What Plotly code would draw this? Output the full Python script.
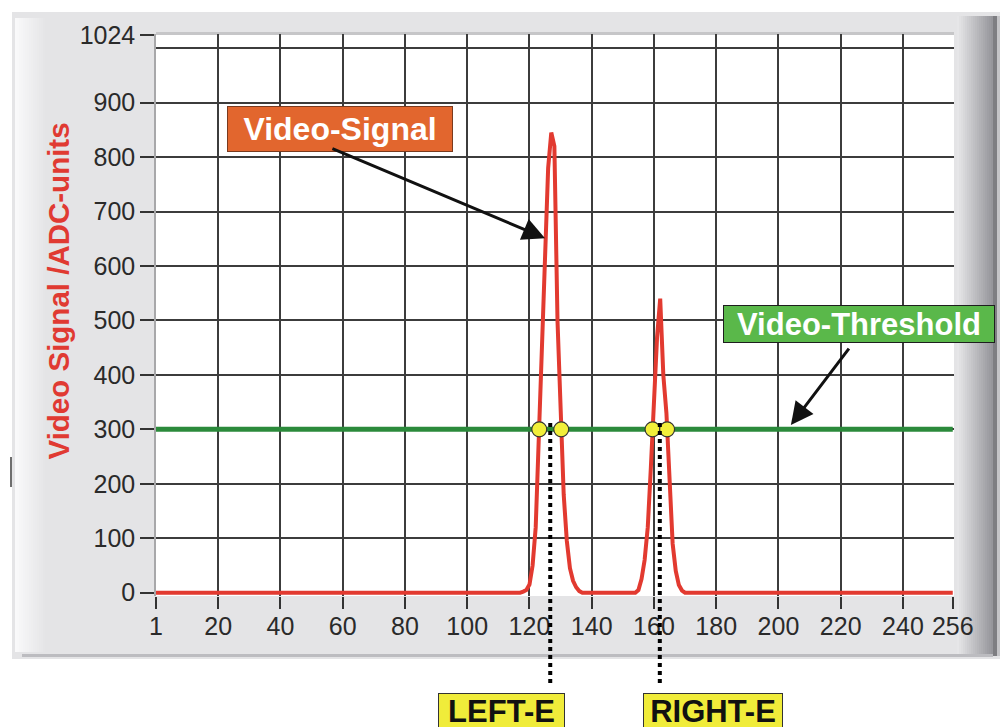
import numpy as np
import plotly.graph_objects as go

# Line-sensor scan: pixel index -> video level in ADC counts
pixel_count = 256
peak1_pixels = list(range(117, 138))
peak1_levels = [0, 2, 5, 15, 50, 120, 280, 420, 620, 780, 845, 820, 500, 330, 180, 95, 45, 22, 10, 3, 0]
peak2_pixels = list(range(154, 171))
peak2_levels = [0, 5, 25, 60, 120, 230, 360, 470, 540, 400, 330, 190, 90, 40, 14, 4, 0]
threshold_level = 300

x_tick_vals = [0, 20, 40, 60, 80, 100, 120, 140, 160, 180, 200, 220, 240, 256]
x_tick_text = ["1", "20", "40", "60", "80", "100", "120", "140", "160", "180", "200", "220", "240", "256"]
x_grid_vals = [20, 40, 60, 80, 100, 120, 140, 160, 180, 200, 220, 240]
y_tick_vals = [0, 100, 200, 300, 400, 500, 600, 700, 800, 900, 1024]
y_tick_text = ["0", "100", "200", "300", "400", "500", "600", "700", "800", "900", "1024"]
y_grid_vals = [100, 200, 300, 400, 500, 600, 700, 800, 900, 1000]

x_range = [0, 256.4]
y_range = [-6, 1026]

pixels = np.arange(pixel_count + 1)
signal = np.zeros(pixel_count + 1)
signal[peak1_pixels] = peak1_levels
signal[peak2_pixels] = peak2_levels


def threshold_edges(px, lv, thr):
    """Interpolated rising and falling crossings of the threshold."""
    px = np.asarray(px, float)
    lv = np.asarray(lv, float)
    above = np.where(lv >= thr)[0]
    i, j = above[0], above[-1]
    rise = px[i - 1] + (thr - lv[i - 1]) / (lv[i] - lv[i - 1]) * (px[i] - px[i - 1])
    fall = px[j] + (lv[j] - thr) / (lv[j] - lv[j + 1]) * (px[j + 1] - px[j])
    return rise, fall


e1 = threshold_edges(peak1_pixels, peak1_levels, threshold_level)
e2 = threshold_edges(peak2_pixels, peak2_levels, threshold_level)
edge_x = [e1[0], e1[1], e2[0], e2[1]]
edge_y = [threshold_level] * 4
centre_left = (e1[0] + e1[1]) / 2
centre_right = (e2[0] + e2[1]) / 2

W, H = 1004, 727
ML, MR, MT, MB = 156, 50, 34, 131
PW, PH = W - ML - MR, H - MT - MB


def fx(p):
    return (p - ML) / PW


def fy(p):
    return (H - MB - p) / PH


def rect(x0, y0, x1, y1, color, layer="below"):
    return dict(type="rect", xref="paper", yref="paper",
                x0=fx(x0), x1=fx(x1), y0=fy(y1), y1=fy(y0),
                fillcolor=color, line=dict(width=0), layer=layer)


def mix(c0, c1, t):
    return "rgb(%d,%d,%d)" % tuple(round(a + (b - a) * t) for a, b in zip(c0, c1))


shapes = [rect(12, 12, 1000, 659, "#e4e4e6")]
# left bevel highlight
for k in range(16):
    x0 = 15 + k * 2
    shapes.append(rect(x0, 18, x0 + 2, 652, mix((249, 249, 250), (228, 228, 230), k / 15)))
# right bevel shading
for k in range(18):
    x0 = 957 + k * 2
    shapes.append(rect(x0, 16, x0 + 2, 656, mix((230, 230, 232), (150, 150, 155), k / 17)))
shapes.append(rect(993, 16, 997, 656, "#7e7e82"))
shapes.append(rect(997, 16, 1000, 656, "#c4c4c7"))
shapes.append(rect(22, 654, 993, 657, "#bcbcc0"))
shapes.append(rect(10, 457, 12, 487, "#6e6e6e"))
# plot area
shapes.append(dict(type="rect", xref="paper", yref="paper", x0=0, x1=1, y0=0, y1=1,
                   fillcolor="white", line=dict(width=0), layer="below"))
shapes.append(rect(ML, 32, ML + PW, 35, "#c6c6c8"))

# dotted markers from the edge pair down to the labels
y_span = y_range[1] - y_range[0]
for xc in (centre_left, centre_right):
    shapes.append(dict(type="line", xref="x", yref="paper", x0=xc, x1=xc,
                       y0=fy(683), y1=(318 - y_range[0]) / y_span,
                       line=dict(color="black", width=4, dash="dot"), layer="above"))

fig = go.Figure()
fig.add_trace(go.Scatter(x=[0, pixel_count], y=[threshold_level, threshold_level], mode="lines",
                         line=dict(color="#2b8a3b", width=5), hoverinfo="skip"))
fig.add_trace(go.Scatter(x=pixels, y=signal, mode="lines",
                         line=dict(color="#e23a30", width=4)))
fig.add_trace(go.Scatter(x=edge_x, y=edge_y, mode="markers", cliponaxis=False,
                         marker=dict(size=15, color="#f2ef3a", line=dict(color="#333333", width=1.2))))

bold = "Liberation Sans, Arial, sans-serif"
tick_font = dict(family="Liberation Sans, Arial, sans-serif", size=25, color="#2a2a2a")

annotations = [
    dict(text="Video Signal /ADC-units", textangle=-90, showarrow=False,
         xref="paper", yref="paper", x=fx(57.5), y=fy(291), xanchor="center", yanchor="middle",
         font=dict(family=bold, size=29.5, color="#e03a32", weight="bold")),
    dict(text="Video-Signal", showarrow=False, xref="x", yref="y", x=59.1, y=851.5,
         xanchor="center", yanchor="middle", width=224, height=44, borderpad=0,
         bgcolor="#e2662e", bordercolor="#7a3a1e", borderwidth=1,
         font=dict(family=bold, size=32, color="white", weight="bold")),
    dict(text="", showarrow=True, xref="x", yref="y", axref="x", ayref="y",
         x=125.0, y=651, ax=56.2, ay=816.6, arrowhead=2, arrowsize=1.5, arrowwidth=3, arrowcolor="#111111"),
    dict(text="Video-Threshold", showarrow=False, xref="x", yref="y", x=225.9, y=493.4,
         xanchor="center", yanchor="middle", width=270, height=36, borderpad=0,
         bgcolor="#5ab84a", bordercolor="#1e1e1e", borderwidth=1,
         font=dict(family=bold, size=31, color="white", weight="bold")),
    dict(text="", showarrow=True, xref="x", yref="y", axref="x", ayref="y",
         x=204.0, y=308, ax=223.0, ay=451, arrowhead=2, arrowsize=1.5, arrowwidth=3, arrowcolor="#111111"),
    dict(text="LEFT-E", showarrow=False, xref="x", yref="paper", x=111.0, y=fy(693),
         xanchor="center", yanchor="top", width=125, height=34, borderpad=0,
         bgcolor="#f0ec3a", bordercolor="#333333", borderwidth=1,
         font=dict(family=bold, size=31, color="#111111", weight="bold")),
    dict(text="RIGHT-E", showarrow=False, xref="x", yref="paper", x=179.0, y=fy(693),
         xanchor="center", yanchor="top", width=138, height=34, borderpad=0,
         bgcolor="#f0ec3a", bordercolor="#333333", borderwidth=1,
         font=dict(family=bold, size=31, color="#111111", weight="bold")),
]

fig.update_layout(
    width=W, height=H, margin=dict(l=ML, r=MR, t=MT, b=MB),
    paper_bgcolor="white", plot_bgcolor="white", showlegend=False,
    shapes=shapes, annotations=annotations,
    xaxis=dict(range=x_range, tickmode="array", tickvals=x_tick_vals, ticktext=x_tick_text,
               showgrid=False, zeroline=False, showline=False, automargin=False, tickangle=0,
               ticks="outside", ticklen=12, tickwidth=1.6, tickcolor="#333333",
               tickfont=tick_font, ticklabelstandoff=-4,
               minor=dict(tickmode="array", tickvals=x_grid_vals, showgrid=True,
                          gridcolor="#3c3c3c", gridwidth=1.6, ticks="")),
    yaxis=dict(range=y_range, tickmode="array", tickvals=y_tick_vals, ticktext=y_tick_text,
               showgrid=False, zeroline=False, showline=True, linecolor="#a8a8aa", linewidth=1.5,
               automargin=False,
               ticks="outside", ticklen=14, tickwidth=1.6, tickcolor="#333333",
               tickfont=tick_font,
               minor=dict(tickmode="array", tickvals=y_grid_vals, showgrid=True,
                          gridcolor="#3c3c3c", gridwidth=1.6, ticks="")),
)

fig.write_html("out.html")
